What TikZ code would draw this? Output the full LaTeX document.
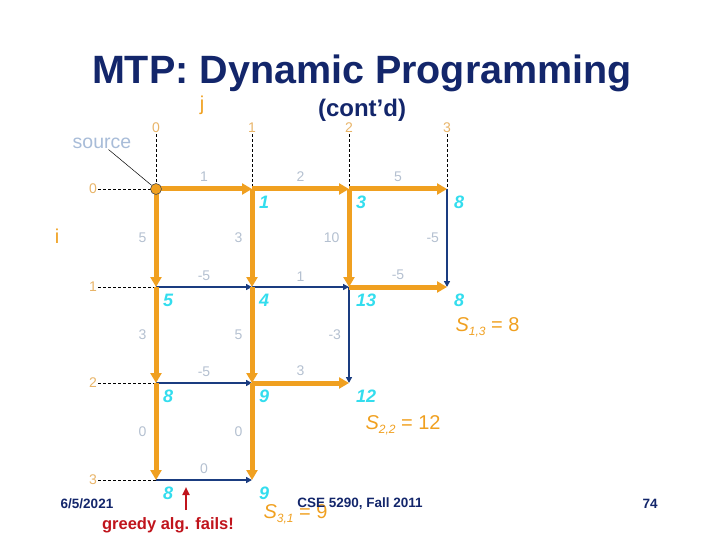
\documentclass[tikz,border=0pt]{standalone}
\usepackage{fontspec}
\setmainfont{Liberation Sans}
\usetikzlibrary{positioning, calc, arrows.meta}

\definecolor{pathorange}{HTML}{F0A020}
\definecolor{idxtan}{HTML}{E8B468}
\definecolor{wtgray}{HTML}{B4C0D0}
\definecolor{srcblue}{HTML}{A8BCD8}
\definecolor{scorecyan}{HTML}{33DDEE}
\definecolor{edgenavy}{HTML}{1A3C80}
\definecolor{titlenavy}{HTML}{13266B}
\definecolor{failred}{HTML}{C0141C}

\begin{document}
\begin{tikzpicture}[x=1pt, y=-1pt,
    heading/.style={font=\fontsize{39.5}{44}\selectfont\bfseries, text=titlenavy, anchor=base},
    idx/.style={font=\fontsize{14}{16}\selectfont, text=idxtan, inner sep=1pt},
    ijlab/.style={font=\fontsize{20}{24}\selectfont, text=pathorange},
    wt/.style={font=\fontsize{14}{16}\selectfont, text=wtgray, inner sep=1pt},
    hwt/.style={wt, above=4pt},
    vwt/.style={wt, left=6pt},
    score/.style={anchor=north west, inner sep=1pt, xshift=6pt, yshift=-6pt,
      font=\fontsize{18}{20}\selectfont\bfseries\itshape, text=scorecyan},
    best/.style={font=\fontsize{20}{24}\selectfont, text=pathorange, anchor=west},
    foot/.style={font=\fontsize{13.5}{16}\selectfont\bfseries, text=titlenavy},
    guide/.style={dash pattern=on 3pt off 2pt, line width=0.6pt},
    pathedge/.style={pathorange, line width=5pt, -{Triangle[length=10pt, width=11pt]}},
    offedge/.style={edgenavy, line width=2pt, -{Triangle[length=6pt, width=6pt]}},
  ]
  \useasboundingbox (0,0) rectangle (720,540);

  % titles
  \node[heading] (title) at (362,84) {MTP: Dynamic Programming};
  \node[heading, font=\fontsize{24}{28}\selectfont\bfseries] (contd) at (362,117) {(cont’d)};

  % grid points
  \coordinate (v00) at (156,189); \coordinate (v01) at (252,189); \coordinate (v02) at (349,189); \coordinate (v03) at (447,189);
  \coordinate (v10) at (156,287); \coordinate (v11) at (252,287); \coordinate (v12) at (349,287); \coordinate (v13) at (447,287);
  \coordinate (v20) at (156,383); \coordinate (v21) at (252,383); \coordinate (v22) at (349,383);
  \coordinate (v30) at (156,480); \coordinate (v31) at (252,480);

  % indices
  \node[ijlab] (jlab) at (202,105) {j};
  \node[ijlab] (ilab) at (57,236) {i};
  \node[idx] (c0) at (156,128) {0};
  \node[idx] (c1) at (252,128) {1};
  \node[idx] (c2) at (349,128) {2};
  \node[idx] (c3) at (447,128) {3};
  \node[idx] (r0) at (93,189) {0};
  \node[idx] (r1) at (93,287) {1};
  \node[idx] (r2) at (93,383) {2};
  \node[idx] (r3) at (93,480) {3};
  \draw[guide] (c0) -- (v00);
  \draw[guide] (c1) -- (v01);
  \draw[guide] (c2) -- (v02);
  \draw[guide] (c3) -- (v03);
  \draw[guide] (r0) -- (v00);
  \draw[guide] (r1) -- (v10);
  \draw[guide] (r2) -- (v20);
  \draw[guide] (r3) -- (v30);

  % edges off the path
  \draw[offedge] (v03) -- node[vwt] (e0313) {-5} (v13);
  \draw[offedge] (v10) -- node[hwt] (e1011) {-5} (v11);
  \draw[offedge] (v11) -- node[hwt] (e1112) {1} (v12);
  \draw[offedge] (v12) -- node[vwt] (e1222) {-3} (v22);
  \draw[offedge] (v20) -- node[hwt] (e2021) {-5} (v21);
  \draw[offedge] (v30) -- node[hwt] (e3031) {0} (v31);

  % edges on the path
  \draw[pathedge] (v00) -- node[hwt] (e0001) {1} (v01);
  \draw[pathedge] (v01) -- node[hwt] (e0102) {2} (v02);
  \draw[pathedge] (v02) -- node[hwt] (e0203) {5} (v03);
  \draw[pathedge] (v00) -- node[vwt] (e0010) {5} (v10);
  \draw[pathedge] (v01) -- node[vwt] (e0111) {3} (v11);
  \draw[pathedge] (v02) -- node[vwt] (e0212) {10} (v12);
  \draw[pathedge] (v12) -- node[hwt] (e1213) {-5} (v13);
  \draw[pathedge] (v10) -- node[vwt] (e1020) {3} (v20);
  \draw[pathedge] (v11) -- node[vwt] (e1121) {5} (v21);
  \draw[pathedge] (v21) -- node[hwt] (e2122) {3} (v22);
  \draw[pathedge] (v20) -- node[vwt] (e2030) {0} (v30);
  \draw[pathedge] (v21) -- node[vwt] (e2131) {0} (v31);

  % source
  \node[circle, draw=black!70, fill=pathorange, minimum size=11pt, inner sep=0pt, line width=0.6pt] (src) at (v00) {};
  \node[font=\fontsize{19.5}{22}\selectfont, text=srcblue, inner sep=1pt] (srclab) at (102,143) {source};
  \draw[line width=0.5pt] (srclab.-45) -- (src);

  % scores
  \node[score] (s01) at (v01) {1};
  \node[score] (s02) at (v02) {3};
  \node[score] (s03) at (v03) {8};
  \node[score] (s10) at (v10) {5};
  \node[score] (s11) at (v11) {4};
  \node[score] (s12) at (v12) {13};
  \node[score] (s13) at (v13) {8};
  \node[score] (s20) at (v20) {8};
  \node[score] (s21) at (v21) {9};
  \node[score] (s22) at (v22) {12};
  \node[score] (s30) at (v30) {8};
  \node[score] (s31) at (v31) {9};

  % best scores
  \node[best] (b13) at (452,327) {\textit{S}\raisebox{-4pt}{\fontsize{12}{12}\selectfont\itshape 1,3} = 8};
  \node[best] (b22) at (362,425) {\textit{S}\raisebox{-4pt}{\fontsize{12}{12}\selectfont\itshape 2,2} = 12};
  \node[best] (b31) at (260,514) {\textit{S}\raisebox{-4pt}{\fontsize{12}{12}\selectfont\itshape 3,1} = 9};

  % greedy note
  \node[font=\fontsize{16.5}{20}\selectfont\bfseries, text=failred] (fails) at (168,525) {greedy alg. fails!};
  \coordinate (failtail) at (186,510);
  \coordinate (failtip) at (186,487);
  \draw[failred, line width=2pt, -{Triangle[length=8pt, width=7pt]}] (failtail) -- (failtip);

  % footer
  \node[foot] (date) at (87,504) {6/5/2021};
  \node[foot] (course) at (360,504) {CSE 5290, Fall 2011};
  \node[foot] (page) at (650,504) {74};
\end{tikzpicture}
\end{document}
